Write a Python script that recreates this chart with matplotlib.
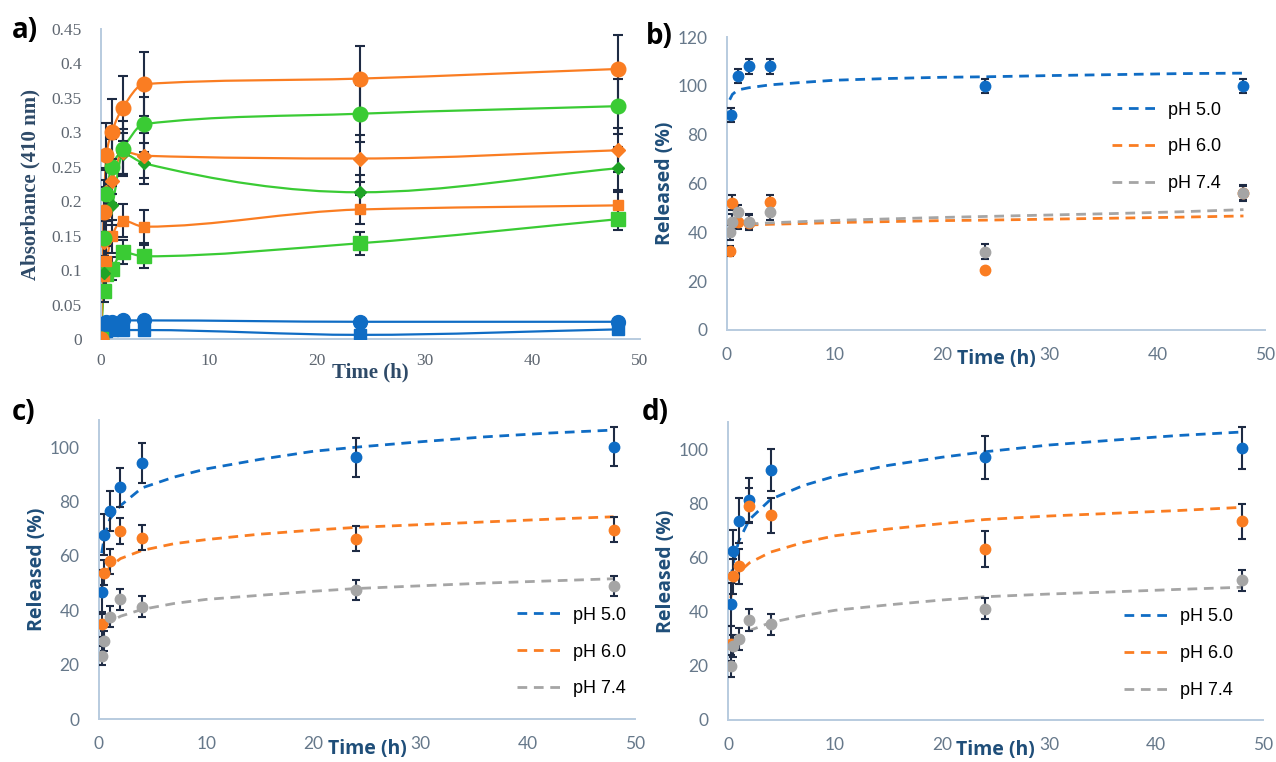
import numpy as np
import matplotlib
matplotlib.use("Agg")
import matplotlib.pyplot as plt
from matplotlib.path import Path
from matplotlib.patches import PathPatch
from matplotlib.lines import Line2D

# ---- panel a: absorbance at 410 nm ----
t_abs = [0, 0.25, 0.5, 1, 2, 4, 24, 48]
or_circle = [0, 0.185, 0.267, 0.300, 0.335, 0.370, 0.378, 0.392]
or_circle_err = [0, 0.046, 0.046, 0.048, 0.047, 0.047, 0.048, 0.049]
gr_circle = [0, 0.146, 0.210, 0.250, 0.276, 0.312, 0.327, 0.338]
gr_circle_err = [0, 0.035, 0.038, 0.040, 0.040, 0.040, 0.041, 0.040]
or_diamond = [0, 0.141, 0.213, 0.230, 0.272, 0.266, 0.262, 0.274]
or_diamond_err = [0, 0.030, 0.032, 0.032, 0.033, 0.033, 0.034, 0.032]
gr_diamond = [0, 0.096, 0.183, 0.194, 0.269, 0.255, 0.213, 0.248]
gr_diamond_err = [0, 0.025, 0.028, 0.028, 0.030, 0.030, 0.025, 0.031]
or_square = [0, 0.091, 0.113, 0.149, 0.172, 0.163, 0.188, 0.194]
or_square_err = [0, 0.020, 0.022, 0.024, 0.024, 0.024, 0.021, 0.020]
gr_square = [0, 0.069, 0.095, 0.102, 0.126, 0.120, 0.139, 0.174]
gr_square_err = [0, 0.015, 0.016, 0.017, 0.017, 0.017, 0.017, 0.016]
bl_circle = [0.020, 0.022, 0.024, 0.025, 0.027, 0.027, 0.025, 0.025]
bl_square = [0.010, 0.011, 0.012, 0.013, 0.013, 0.013, 0.006, 0.014]
bl_err = [0.003] * 8

# ---- panels b-d: release profiles ----
ph_labels = ["pH 5.0", "pH 6.0", "pH 7.4"]
t_rel = [0.25, 0.5, 1, 2, 4, 24, 48]

b_t_blue = [0.4, 1, 2, 4, 24, 48]
b_blue = [88, 104, 108, 108, 100, 100]
b_blue_err = [3, 3, 3, 3, 3, 3]
b_orange = [32.5, 52.2, 44.4, 44.0, 52.3, 24.5, 56.0]
b_orange_err = [2, 3, 3, 3, 3, 1, 3]
b_gray = [40.0, 44.4, 48.2, 44.4, 48.2, 32.1, 56.3]
b_gray_err = [3, 3, 3, 3, 3, 3, 3]

c_blue = [46.7, 67.8, 76.4, 85.3, 94.1, 96.3, 100.2]
c_blue_err = [8, 7.5, 7.3, 7.2, 7.3, 7.2, 7.2]
c_orange = [34.8, 53.8, 58.1, 69.1, 66.7, 66.4, 69.7]
c_orange_err = [4.5, 4.6, 4.6, 4.7, 4.6, 4.7, 4.7]
c_gray = [23.2, 28.7, 37.7, 44.0, 41.3, 47.4, 48.9]
c_gray_err = [3.5, 3.6, 3.8, 3.8, 3.8, 3.6, 3.7]

d_blue = [42.7, 62.2, 73.6, 81.2, 92.3, 97.0, 100.4]
d_blue_err = [8, 8, 8.2, 8, 7.9, 8, 7.9]
d_orange = [28.2, 53.1, 56.8, 79.1, 75.5, 63.1, 73.3]
d_orange_err = [6.5, 6.5, 6.5, 6.5, 6.5, 6.5, 6.5]
d_gray = [20.0, 27.4, 29.8, 36.8, 35.3, 41.1, 51.5]
d_gray_err = [4, 4, 4, 4, 4, 4, 4]

# fitted curves
t_fit = [0.25, 0.5, 1, 2, 4, 7, 10, 15, 20, 24, 30, 36, 42, 48]
b_fit_blue = [94.3, 96.5, 98.3, 99.2, 100.4, 101.4, 102.3, 103.0, 103.5, 103.7, 104.2, 104.6, 105.0, 105.2]
b_fit_orange = [None, 42.3, 42.6, 43.0, 43.3, 43.6, 44.0, 44.4, 44.8, 45.0, 45.4, 45.8, 46.2, 46.7]
b_fit_gray = [None, 42.5, 43.0, 43.4, 43.9, 44.4, 44.9, 45.5, 46.1, 46.5, 47.1, 47.7, 48.4, 49.3]
c_fit_blue = [61.0, 67.0, 73.5, 78.5, 85.0, 89.0, 92.0, 95.5, 98.5, 100.0, 102.0, 103.8, 105.2, 106.3]
c_fit_orange = [48.0, 52.5, 56.0, 59.0, 62.0, 64.5, 66.0, 68.0, 69.5, 70.5, 71.5, 72.5, 73.5, 74.4]
c_fit_gray = [None, 34.0, 35.5, 37.8, 40.3, 42.5, 44.0, 45.5, 47.0, 48.0, 49.0, 50.0, 50.8, 51.6]
d_fit_blue = [52.0, 58.0, 66.0, 74.0, 81.5, 86.5, 90.0, 94.0, 97.0, 99.0, 101.5, 103.3, 105.0, 106.3]
d_fit_orange = [45.0, 50.0, 54.5, 58.0, 62.0, 65.5, 68.0, 70.5, 72.5, 74.0, 75.3, 76.3, 77.3, 78.5]
d_fit_gray = [23.0, 26.0, 29.5, 33.0, 36.0, 38.5, 40.5, 42.5, 44.3, 45.5, 46.5, 47.3, 48.2, 49.0]

BLUE = "#0F6CC4"
ORANGE = "#FA7D22"
GREEN = "#3ACB34"
DGREEN = "#1FA326"
GRAY = "#A5A5A5"
ERR = "#1E2B44"
SPINE = "#B8CBDF"
TICK = "#66788A"
LABEL = "#1F4E79"


def smooth_path(x, y):
    # monotone cubic through the points (smoothed line look)
    x = np.asarray(x, float)
    y = np.asarray(y, float)
    n = len(x)
    h = np.diff(x)
    d = np.diff(y) / h
    m = np.zeros(n)
    m[0], m[-1] = d[0], d[-1]
    for k in range(1, n - 1):
        if d[k - 1] * d[k] > 0:
            w1 = 2 * h[k] + h[k - 1]
            w2 = h[k] + 2 * h[k - 1]
            m[k] = (w1 + w2) / (w1 / d[k - 1] + w2 / d[k])
    verts = [(x[0], y[0])]
    codes = [Path.MOVETO]
    for i in range(n - 1):
        dx = h[i]
        verts += [(x[i] + dx / 3, y[i] + m[i] * dx / 3),
                  (x[i + 1] - dx / 3, y[i + 1] - m[i + 1] * dx / 3),
                  (x[i + 1], y[i + 1])]
        codes += [Path.CURVE4] * 3
    return Path(verts, codes)


def style_axes(ax, font, size, color):
    for s in ["top", "right"]:
        ax.spines[s].set_visible(False)
    for s in ["left", "bottom"]:
        ax.spines[s].set_color(SPINE)
        ax.spines[s].set_linewidth(1.4)
    ax.tick_params(length=0, labelsize=size, labelcolor=color)
    ax.tick_params(axis="x", pad=10)
    ax.tick_params(axis="y", pad=12)
    for lab in ax.get_xticklabels() + ax.get_yticklabels():
        lab.set_family(font)


fig = plt.figure(figsize=(12.76, 7.62), dpi=100)
W, H = 1276, 762


def axes_px(x0, x1, ytop, ybot):
    return fig.add_axes([x0 / W, 1 - ybot / H, (x1 - x0) / W, (ybot - ytop) / H])


# ---------------- panel a ----------------
ax = axes_px(101, 640, 29, 339)
ax.set_xlim(0, 50)
ax.set_ylim(0, 0.45)
ax.set_xticks(range(0, 51, 10))
ax.set_yticks(np.arange(0, 0.451, 0.05))
ax.set_yticklabels(["0", "0.05", "0.1", "0.15", "0.2", "0.25", "0.3", "0.35", "0.4", "0.45"])
style_axes(ax, "Liberation Serif", 12.5, "#5E6670")
ax.tick_params(axis="y", pad=14)

series_a = [
    (bl_circle, bl_err, BLUE, "o", 10),
    (bl_square, bl_err, BLUE, "s", 9),
    (gr_square, gr_square_err, GREEN, "s", 9.5),
    (or_square, or_square_err, ORANGE, "s", 7),
    (gr_diamond, gr_diamond_err, DGREEN, "D", 6.5),
    (or_diamond, or_diamond_err, ORANGE, "D", 7),
    (gr_circle, gr_circle_err, GREEN, "o", 10.5),
    (or_circle, or_circle_err, ORANGE, "o", 10.5),
]
for vals, err, col, mk, ms in series_a:
    line_col = GREEN if col == DGREEN else col
    ax.add_patch(PathPatch(smooth_path(t_abs, vals), fill=False, edgecolor=line_col,
                           lw=1.6, zorder=2))
    ax.errorbar(t_abs, vals, yerr=err, fmt="none", ecolor=ERR, elinewidth=1.5,
                capsize=3.5, capthick=1.5, zorder=3)
    ax.plot(t_abs, vals, ls="none", marker=mk, ms=ms, color=col, zorder=4)

ax.set_ylabel("Absorbance (410 nm)", family="Liberation Serif", fontweight="bold",
              fontsize=15, color="#2E4A68", labelpad=8)
ax.text(0.5, -0.108, "Time (h)", transform=ax.transAxes, ha="center", va="center",
        family="Liberation Serif", fontweight="bold", fontsize=15, color="#2E4A68")
fig.text(12 / W, 1 - 30 / H, "a)", fontsize=20, fontweight="bold", family="Open Sans",
         va="center", ha="left")


# ---------------- panels b-d ----------------
def release_panel(ax, pts, fits, ylim, yticks, leg_anchor, letter, letter_xy):
    ax.set_xlim(0, 50)
    ax.set_ylim(*ylim)
    ax.set_xticks(range(0, 51, 10))
    ax.set_yticks(yticks)
    style_axes(ax, "Lato", 12.5, TICK)
    ax.tick_params(axis="y", pad=14)
    ax.tick_params(axis="x", pad=12)
    cols = [BLUE, ORANGE, GRAY]
    handles = []
    for (tt, vals), col, lab in zip(fits, cols, ph_labels):
        xs = [a for a, b in zip(tt, vals) if b is not None]
        ys = [b for b in vals if b is not None]
        ax.plot(xs, ys, color=col, lw=2.0, dashes=(3.5, 2.4), zorder=2)
        handles.append(Line2D([], [], color=col, lw=2.0, dashes=(3.5, 2.4), label=lab))
    for (tt, vals, err), col in zip(pts, cols):
        ax.errorbar(tt, vals, yerr=err, fmt="none", ecolor=ERR, elinewidth=1.5,
                    capsize=3, capthick=1.5, zorder=3)
        ax.plot(tt, vals, ls="none", marker="o", ms=7.5, color=col, zorder=4)
    ax.legend(handles=handles, loc="upper left", bbox_to_anchor=leg_anchor, frameon=False,
              handlelength=2.6, labelspacing=1.1, handletextpad=0.5,
              prop={"family": "Liberation Sans", "size": 13})
    ax.set_ylabel("Released (%)", family="Open Sans", fontweight="bold", fontsize=14,
                  color=LABEL, labelpad=2)
    ax.text(0.5, -0.1, "Time (h)", transform=ax.transAxes, ha="center", va="center",
            family="Open Sans", fontweight="bold", fontsize=14, color=LABEL)
    fig.text(letter_xy[0] / W, 1 - letter_xy[1] / H, letter, fontsize=20,
             fontweight="bold", family="Open Sans", va="center", ha="left")


ax_b = axes_px(727, 1265, 37, 330)
release_panel(ax_b,
              [(b_t_blue, b_blue, b_blue_err), (t_rel, b_orange, b_orange_err),
               (t_rel, b_gray, b_gray_err)],
              [(t_fit, b_fit_blue), (t_fit, b_fit_orange), (t_fit, b_fit_gray)],
              (0, 120), range(0, 121, 20), (0.685, 0.835), "b)", (646, 37))

ax_c = axes_px(99, 635, 420, 719)
release_panel(ax_c,
              [(t_rel, c_blue, c_blue_err), (t_rel, c_orange, c_orange_err),
               (t_rel, c_gray, c_gray_err)],
              [(t_fit, c_fit_blue), (t_fit, c_fit_orange), (t_fit, c_fit_gray)],
              (0, 110), range(0, 101, 20), (0.75, 0.43), "c)", (12, 412))

ax_d = axes_px(728, 1263, 422, 720)
release_panel(ax_d,
              [(t_rel, d_blue, d_blue_err), (t_rel, d_orange, d_orange_err),
               (t_rel, d_gray, d_gray_err)],
              [(t_fit, d_fit_blue), (t_fit, d_fit_orange), (t_fit, d_fit_gray)],
              (0, 110), range(0, 101, 20), (0.71, 0.43), "d)", (642, 412))

fig.savefig("out.png", dpi=100)
